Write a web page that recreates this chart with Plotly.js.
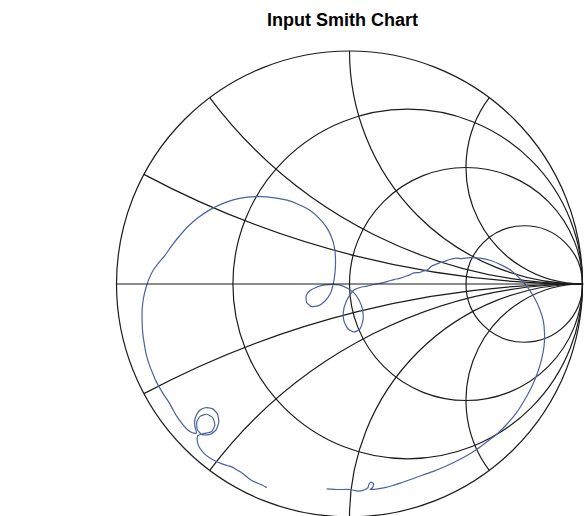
<!DOCTYPE html>
<html>
<head>
<meta charset="utf-8">
<script src="https://cdn.plot.ly/plotly-3.0.1.min.js"></script>
<style>
  html, body { margin: 0; padding: 0; background: #ffffff; overflow: hidden; }
  #chart { width: 585px; height: 520px; }
</style>
</head>
<body>
<div id="chart"></div>
<script>
const gammaRe = [
  -0.098, -0.049, 0.002, 0.036, 0.062, 0.079, 0.084, 0.092, 0.103, 0.099,
  0.088, 0.116, 0.152, 0.186, 0.225, 0.268, 0.315, 0.362, 0.413, 0.460,
  0.508, 0.550, 0.593, 0.632, 0.675, 0.717, 0.752, 0.782, 0.807, 0.824,
  0.835, 0.837, 0.831, 0.816, 0.794, 0.769, 0.734, 0.696, 0.653, 0.606,
  0.559, 0.516, 0.482, 0.456, 0.430, 0.405, 0.388, 0.370, 0.353, 0.336,
  0.319, 0.298, 0.276, 0.259, 0.238, 0.216, 0.191, 0.165, 0.135, 0.105,
  0.075, 0.045, 0.019, 0.002, -0.015, -0.026, -0.024, -0.006, 0.019, 0.045,
  0.058, 0.056, 0.041, 0.015, -0.015, -0.045, -0.075, -0.105, -0.139, -0.169,
  -0.186, -0.184, -0.165, -0.135, -0.105, -0.081, -0.069, -0.062, -0.060, -0.064,
  -0.077, -0.099, -0.131, -0.169, -0.216, -0.268, -0.323, -0.383, -0.439, -0.495,
  -0.550, -0.602, -0.649, -0.692, -0.730, -0.764, -0.794, -0.820, -0.842, -0.861,
  -0.874, -0.884, -0.890, -0.890, -0.887, -0.880, -0.872, -0.859, -0.844, -0.829,
  -0.812, -0.794, -0.777, -0.760, -0.743, -0.722, -0.700, -0.679, -0.657, -0.664,
  -0.662, -0.645, -0.619, -0.589, -0.567, -0.561, -0.572, -0.597, -0.632, -0.653,
  -0.655, -0.640, -0.612, -0.587, -0.578, -0.593, -0.627, -0.651, -0.653, -0.642,
  -0.623, -0.602, -0.576, -0.550, -0.525, -0.503, -0.482, -0.460, -0.439, -0.418,
  -0.396, -0.375, -0.355
];
const gammaIm = [
  -0.879, -0.882, -0.882, -0.889, -0.884, -0.874, -0.859, -0.850, -0.857, -0.874,
  -0.882, -0.880, -0.874, -0.865, -0.852, -0.837, -0.820, -0.803, -0.782, -0.760,
  -0.734, -0.707, -0.675, -0.645, -0.602, -0.552, -0.497, -0.441, -0.381, -0.325,
  -0.266, -0.210, -0.154, -0.107, -0.060, -0.021, 0.021, 0.056, 0.081, 0.101,
  0.111, 0.113, 0.109, 0.111, 0.105, 0.096, 0.092, 0.084, 0.077, 0.062,
  0.056, 0.049, 0.048, 0.039, 0.032, 0.024, 0.019, 0.011, 0.004, -0.002,
  -0.009, -0.015, -0.026, -0.047, -0.077, -0.116, -0.158, -0.193, -0.206, -0.193,
  -0.154, -0.111, -0.069, -0.034, -0.015, -0.004, -0.002, -0.004, -0.013, -0.028,
  -0.051, -0.079, -0.096, -0.094, -0.073, -0.039, 0.004, 0.051, 0.103, 0.154,
  0.201, 0.244, 0.283, 0.315, 0.340, 0.360, 0.370, 0.375, 0.373, 0.362,
  0.343, 0.317, 0.285, 0.248, 0.206, 0.163, 0.120, 0.090, 0.060, 0.021,
  -0.017, -0.060, -0.111, -0.163, -0.214, -0.261, -0.304, -0.347, -0.385, -0.420,
  -0.450, -0.480, -0.505, -0.535, -0.565, -0.595, -0.621, -0.636, -0.640, -0.608,
  -0.574, -0.544, -0.531, -0.535, -0.557, -0.591, -0.625, -0.645, -0.647, -0.625,
  -0.591, -0.567, -0.559, -0.574, -0.606, -0.634, -0.642, -0.651, -0.677, -0.705,
  -0.728, -0.745, -0.760, -0.771, -0.779, -0.786, -0.799, -0.812, -0.829, -0.844,
  -0.854, -0.863, -0.874
];

// Grid values of the Smith chart
const resistanceGrid = [0.333, 1, 3];
const reactanceGrid = [-2, -1, -0.5, -0.25, 0.25, 0.5, 1, 2];

const chartTitle = 'Input Smith Chart';

// Convert reflection coefficient to normalized impedance z = (1 + G) / (1 - G)
const zRe = [], zIm = [];
for (let i = 0; i < gammaRe.length; i++) {
  const a = gammaRe[i], b = gammaIm[i];
  const den = (1 - a) * (1 - a) + b * b;
  zRe.push((1 - a * a - b * b) / den);
  zIm.push((2 * b) / den);
}

const gridColor = '#1c1c1c';

const trace = {
  type: 'scattersmith',
  real: zRe,
  imag: zIm,
  mode: 'lines',
  line: { color: '#4a62a0', width: 1.2, shape: 'spline', smoothing: 0.6 },
  hoverinfo: 'skip',
  showlegend: false
};

const layout = {
  width: 585,
  height: 520,
  margin: { l: 116, r: 2, t: 50.5, b: 2.5, pad: 0 },
  paper_bgcolor: '#ffffff',
  plot_bgcolor: '#ffffff',
  showlegend: false,
  title: {
    text: '<b>' + chartTitle + '</b>',
    font: { family: 'Liberation Sans, Arial, sans-serif', size: 18, color: '#000000' },
    xref: 'container', yref: 'container',
    x: 0.5855, xanchor: 'center',
    y: 0.9615, yanchor: 'middle'
  },
  smith: {
    domain: { x: [0, 1], y: [0, 1] },
    bgcolor: '#ffffff',
    realaxis: {
      tickvals: resistanceGrid,
      showticklabels: false,
      ticks: '',
      showgrid: true,
      gridcolor: gridColor,
      gridwidth: 1.2,
      showline: true,
      linecolor: gridColor,
      linewidth: 1.2
    },
    imaginaryaxis: {
      tickvals: reactanceGrid,
      showticklabels: false,
      ticks: '',
      showgrid: true,
      gridcolor: gridColor,
      gridwidth: 1.2,
      showline: true,
      linecolor: gridColor,
      linewidth: 1.2
    }
  }
};

Plotly.newPlot('chart', [trace], layout, { displayModeBar: false, staticPlot: true });
</script>
</body>
</html>
